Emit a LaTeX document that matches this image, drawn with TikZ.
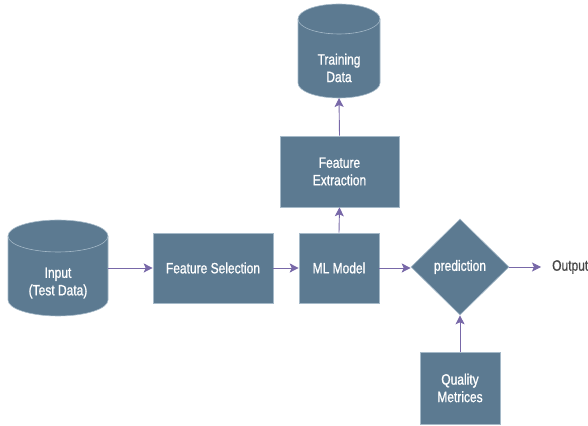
\documentclass[tikz,border=0pt]{standalone}
\usepackage{fontspec}
\setmainfont{Liberation Sans}[FakeStretch=0.8,FakeBold=1]
\usetikzlibrary{shapes.geometric,arrows.meta}
\definecolor{boxfill}{RGB}{92,122,145}
\definecolor{boxline}{RGB}{165,185,200}
\definecolor{arrowc}{RGB}{120,104,168}
\definecolor{outtext}{RGB}{70,70,70}
\tikzset{
  txt/.style={font=\fontsize{15}{17.5}\selectfont},
  boxstyle/.style={rectangle, fill=boxfill, draw=boxline, line width=0.6pt, text=white,
    txt, align=center, inner sep=0pt},
  cylstyle/.style={fill=boxfill, draw=boxline, line width=0.6pt},
  cyltext/.style={text=white, txt, align=center, inner sep=0pt},
  conn/.style={draw=arrowc, line width=0.9pt, -{Stealth[length=9pt,width=9pt,inset=2pt]}}
}
\begin{document}
\begin{tikzpicture}[x=1pt,y=1pt]
\useasboundingbox (0,0) rectangle (588,425);
% Training Data cylinder
\draw[cylstyle] (298,406) -- (298,342) arc[start angle=180,end angle=360,x radius=41pt,y radius=15pt]
  -- (380,406) arc[start angle=0,end angle=180,x radius=41pt,y radius=15pt] -- cycle;
\draw[boxline, line width=0.6pt] (298,406) arc[start angle=180,end angle=360,x radius=41pt,y radius=15pt];
\node[cyltext] (td) at (339,357) {Training\\Data};
\coordinate (tdbottom) at (339,327);
% Input cylinder
\draw[cylstyle] (8,189) -- (8,125) arc[start angle=180,end angle=360,x radius=50pt,y radius=16pt]
  -- (108,189) arc[start angle=0,end angle=180,x radius=50pt,y radius=16pt] -- cycle;
\draw[boxline, line width=0.6pt] (8,189) arc[start angle=180,end angle=360,x radius=50pt,y radius=16pt];
\node[cyltext] (inp) at (58,142) {Input\\(Test Data)};
\coordinate (inpeast) at (108,157);
% Boxes
\node[boxstyle, minimum width=119pt, minimum height=71pt] (fe) at (339.5,253.5) {Feature\\Extraction};
\node[boxstyle, minimum width=120pt, minimum height=70pt] (fs) at (213,157) {Feature Selection};
\node[boxstyle, minimum width=80pt, minimum height=70pt] (ml) at (339,157) {ML Model};
\node[diamond, fill=boxfill, draw=boxline, line width=0.6pt, text=white,
  txt, minimum width=98pt, minimum height=96pt, inner sep=0pt, aspect=1] (pred) at (460,158) {prediction};
\node[boxstyle, minimum width=80pt, minimum height=72pt] (qm) at (460,37) {Quality\\Metrices};
\node[anchor=west, inner sep=0pt, text=outtext, txt] (out) at (552,158) {Output};
% Connectors
\draw[conn] (inpeast) -- (fs.west);
\draw[conn] (fs.east) -- (ml.west);
\draw[conn] (ml.north) -- (fe.south);
\draw[conn] (fe.north) -- (tdbottom);
\draw[conn] (ml.east) -- (ml.east -| pred.west);
\draw[conn, shorten >=11pt] (pred.east) -- (out.west);
\draw[conn] (qm.north) -- (pred.south);
\end{tikzpicture}
\end{document}
